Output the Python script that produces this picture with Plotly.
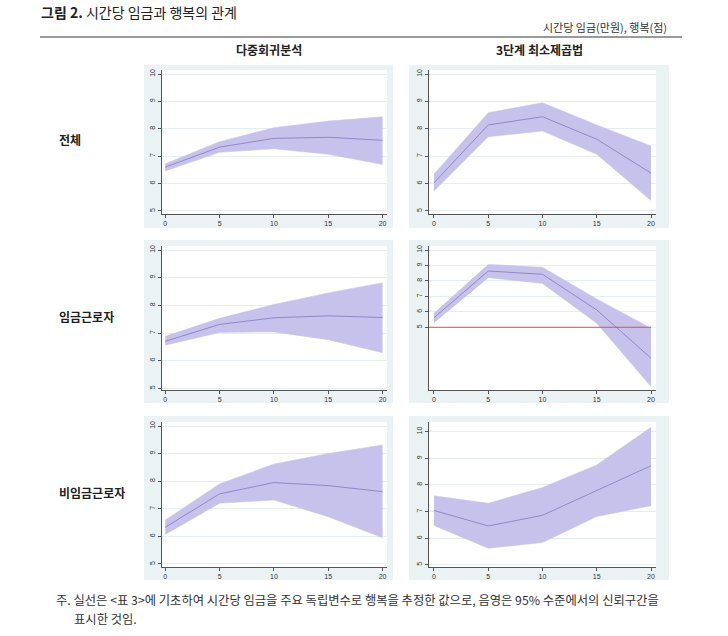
import plotly.graph_objects as go

# ---------------- data ----------------
wage = [0, 5, 10, 15, 20]
x_ticks = [0, 5, 10, 15, 20]
y_ticks = [5, 6, 7, 8, 9, 10]

col_titles = ["다중회귀분석", "3단계 최소제곱법"]
row_titles = ["전체", "임금근로자", "비임금근로자"]

# 전체 - 다중회귀분석
all_ols_mean = [6.60, 7.33, 7.65, 7.69, 7.58]
all_ols_lo = [6.46, 7.14, 7.27, 7.07, 6.70]
all_ols_hi = [6.72, 7.53, 8.04, 8.28, 8.44]
# 전체 - 3단계 최소제곱법
all_3sls_mean = [6.03, 8.14, 8.44, 7.62, 6.38]
all_3sls_lo = [5.73, 7.71, 7.92, 7.07, 5.38]
all_3sls_hi = [6.34, 8.59, 8.95, 8.14, 7.37]
# 임금근로자 - 다중회귀분석
emp_ols_mean = [6.70, 7.31, 7.55, 7.62, 7.56]
emp_ols_lo = [6.56, 7.02, 7.04, 6.76, 6.29]
emp_ols_hi = [6.88, 7.53, 8.03, 8.45, 8.82]
# 임금근로자 - 3단계 최소제곱법
emp_3sls_mean = [5.62, 8.64, 8.43, 6.12, 3.00]
emp_3sls_lo = [5.30, 8.21, 7.84, 5.26, 1.16]
emp_3sls_hi = [5.90, 9.07, 8.88, 6.83, 4.94]
emp_3sls_refline = 5
# 비임금근로자 - 다중회귀분석
self_ols_mean = [6.33, 7.54, 7.95, 7.84, 7.62]
self_ols_lo = [6.07, 7.20, 7.32, 6.71, 5.95]
self_ols_hi = [6.59, 7.90, 8.62, 9.00, 9.31]
# 비임금근로자 - 3단계 최소제곱법
self_3sls_mean = [7.04, 6.46, 6.86, 7.78, 8.72]
self_3sls_lo = [6.48, 5.62, 5.84, 6.81, 7.22]
self_3sls_hi = [7.59, 7.31, 7.90, 8.75, 10.16]

title_bold = "그림 2."
title_text = "시간당 임금과 행복의 관계"
unit_text = "시간당 임금(만원), 행복(점)"
note_line1 = "주. 실선은 <표 3>에 기초하여 시간당 임금을 주요 독립변수로 행복을 추정한 값으로, 음영은 95% 수준에서의 신뢰구간을"
note_line2 = "표시한 것임."

panels = [
    (all_ols_mean, all_ols_lo, all_ols_hi),
    (all_3sls_mean, all_3sls_lo, all_3sls_hi),
    (emp_ols_mean, emp_ols_lo, emp_ols_hi),
    (emp_3sls_mean, emp_3sls_lo, emp_3sls_hi),
    (self_ols_mean, self_ols_lo, self_ols_hi),
    (self_3sls_mean, self_3sls_lo, self_3sls_hi),
]

# ---------------- layout geometry (pixels) ----------------
W, H = 728, 636
FONT = "Noto Sans CJK KR"
FILL = "rgb(199,194,235)"
LINE = "rgb(145,136,198)"
BOXBG = "#eaf2f3"

col_box = [(144, 393), (409, 669)]
col_plot = [(162, 387), (429, 656)]
col_xrange = [(-0.30, 20.41), (-0.46, 20.46)]
row_box = [(65, 228), (240, 403), (416, 580)]
row_plot = [(70, 214), (246, 390), (422, 567)]
yranges = [
    [(4.89, 10.146), (4.89, 10.146)],
    [(4.94, 10.145), (0.94, 10.26)],
    [(4.89, 10.145), (4.92, 10.36)],
]


def fx(p):
    return p / W


def fy(p):
    return 1 - p / H


fig = go.Figure()
shapes = []
annotations = []

for i, (mean, lo, hi) in enumerate(panels):
    r, c = divmod(i, 2)
    n = i + 1
    xa = "x" if n == 1 else f"x{n}"
    ya = "y" if n == 1 else f"y{n}"
    # panel background box
    shapes.append(dict(type="rect", xref="paper", yref="paper",
                       x0=fx(col_box[c][0]), x1=fx(col_box[c][1]),
                       y0=fy(row_box[r][1]), y1=fy(row_box[r][0]),
                       fillcolor=BOXBG, line=dict(width=0), layer="below"))
    shapes.append(dict(type="rect", xref="paper", yref="paper",
                       x0=fx(col_plot[c][0]), x1=fx(col_plot[c][1]),
                       y0=fy(row_plot[r][1]), y1=fy(row_plot[r][0]),
                       fillcolor="white", line=dict(width=0), layer="below"))
    fig.add_trace(go.Scatter(x=wage, y=lo, mode="lines", line=dict(color=FILL, width=0.5),
                             xaxis=xa, yaxis=ya, showlegend=False, hoverinfo="skip"))
    fig.add_trace(go.Scatter(x=wage, y=hi, mode="lines", line=dict(color=FILL, width=0.5),
                             fill="tonexty", fillcolor=FILL,
                             xaxis=xa, yaxis=ya, showlegend=False, hoverinfo="skip"))
    fig.add_trace(go.Scatter(x=wage, y=mean, mode="lines", line=dict(color=LINE, width=1),
                             xaxis=xa, yaxis=ya, showlegend=False))
    xkey = "xaxis" if n == 1 else f"xaxis{n}"
    ykey = "yaxis" if n == 1 else f"yaxis{n}"
    fig.layout[xkey] = dict(
        domain=[fx(col_plot[c][0]), fx(col_plot[c][1])], anchor=ya,
        range=list(col_xrange[c]), tickvals=x_ticks, showgrid=False, zeroline=False,
        showline=True, linecolor="#555", linewidth=1, ticks="outside", ticklen=3,
        tickcolor="#555", tickfont=dict(size=7, color="#333", family="Liberation Sans"))
    fig.layout[ykey] = dict(
        domain=[fy(row_plot[r][1]), fy(row_plot[r][0])], anchor=xa,
        range=list(yranges[r][c]), tickvals=y_ticks, tickangle=-90,
        showgrid=True, gridcolor="#e4edef", gridwidth=1, zeroline=False,
        showline=True, linecolor="#555", linewidth=1, ticks="outside", ticklen=3,
        tickcolor="#555", tickfont=dict(size=7, color="#333", family="Liberation Sans"))

# red reference line in 임금근로자 / 3단계 최소제곱법 panel
fig.add_trace(go.Scatter(x=[col_xrange[1][0], wage[-1]], y=[emp_3sls_refline, emp_3sls_refline],
                         mode="lines", line=dict(color="#d9534f", width=1),
                         xaxis="x4", yaxis="y4", showlegend=False, hoverinfo="skip"))

# texts
annotations.append(dict(xref="paper", yref="paper", x=fx(39), y=fy(12), xanchor="left", yanchor="middle",
                        text=f"<b>{title_bold}</b> {title_text}", showarrow=False,
                        font=dict(family=FONT, size=14, color="#222")))
annotations.append(dict(xref="paper", yref="paper", x=fx(669), y=fy(27), xanchor="right", yanchor="middle",
                        text=unit_text, showarrow=False, font=dict(family=FONT, size=11, color="#333")))
for c, t in enumerate(col_titles):
    annotations.append(dict(xref="paper", yref="paper", x=fx(sum(col_box[c]) / 2), y=fy(49),
                            xanchor="center", yanchor="middle", text=f"<b>{t}</b>", showarrow=False,
                            font=dict(family=FONT, size=12, color="#222")))
row_label_y = [140, 316, 492]
for r, t in enumerate(row_titles):
    annotations.append(dict(xref="paper", yref="paper", x=fx(57), y=fy(row_label_y[r]),
                            xanchor="left", yanchor="middle", text=f"<b>{t}</b>", showarrow=False,
                            font=dict(family=FONT, size=12, color="#222")))
annotations.append(dict(xref="paper", yref="paper", x=fx(55), y=fy(600), xanchor="left", yanchor="middle",
                        text=note_line1.replace("<", "&lt;").replace(">", "&gt;"), showarrow=False,
                        borderpad=0, font=dict(family=FONT, size=12.3, color="#333")))
annotations.append(dict(xref="paper", yref="paper", x=fx(73), y=fy(619), xanchor="left", yanchor="middle",
                        text=note_line2, showarrow=False, borderpad=0,
                        font=dict(family=FONT, size=12.3, color="#333")))

# separator line under unit text
shapes.append(dict(type="line", xref="paper", yref="paper", x0=fx(40), x1=fx(682), y0=fy(37), y1=fy(37),
                   line=dict(color="#9a9a9a", width=2)))

fig.update_layout(width=W, height=H, margin=dict(l=0, r=0, t=0, b=0),
                  paper_bgcolor="white", plot_bgcolor="white",
                  shapes=shapes, annotations=annotations, showlegend=False)

fig.write_html("out.html")
